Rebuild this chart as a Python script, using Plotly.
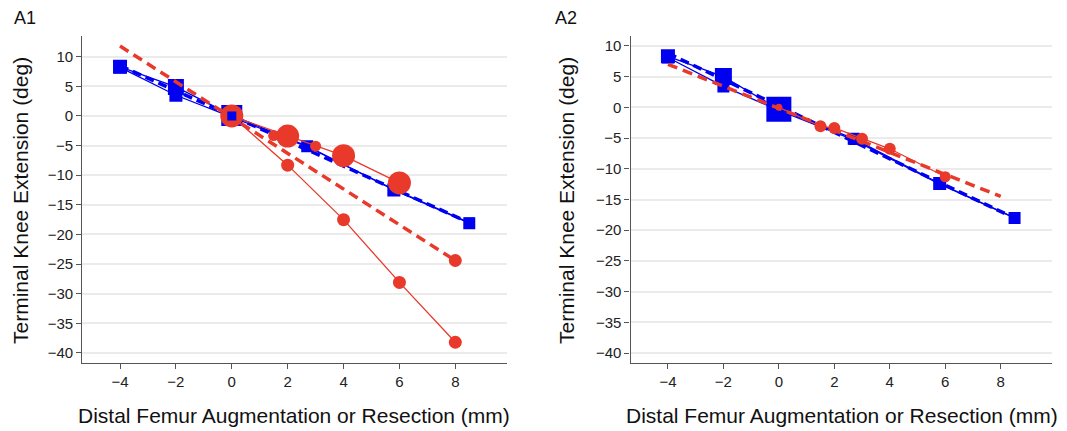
import plotly.graph_objects as go

# ---------------- data ----------------
x_ticks = [-4, -2, 0, 2, 4, 6, 8]
y_ticks = [-40, -35, -30, -25, -20, -15, -10, -5, 0, 5, 10]

# Panel A1
a1_blue1_x = [-4, -2, 0, 2.7, 5.8, 8.5]
a1_blue1_y = [8.3, 4.9, 0.1, -5.1, -12.5, -18.1]
a1_blue1_size = [14, 16, 21, 12, 13, 12]
a1_blue2_x = [-4, -2, 0, 2.7, 5.8, 8.5]
a1_blue2_y = [8.2, 3.5, -0.2, -5.2, -12.4, -18.0]
a1_blue2_size = [12, 13, 10, 10, 11, 10]
a1_bluefit_x = [-4, 8.3]
a1_bluefit_y = [8.5, -17.6]

a1_red_steep_x = [0, 2, 4, 6, 8]
a1_red_steep_y = [0, -8.3, -17.5, -28.1, -38.2]
a1_red_shallow_x = [0, 2, 4, 6]
a1_red_shallow_y = [0, -3.4, -6.7, -11.3]
a1_red_small_x = [1.5, 3, 8]
a1_red_small_y = [-3.3, -5.1, -24.4]
a1_redfit_x = [-4, 8]
a1_redfit_y = [11.8, -24.4]

# Panel A2
a2_blue1_x = [-4, -2, 0, 2.7, 5.8, 8.5]
a2_blue1_y = [8.3, 5.0, -0.3, -5.1, -12.4, -18.0]
a2_blue1_size = [14, 17, 25, 12, 13, 12]
a2_blue2_x = [-4, -2, 0, 2.7, 5.8, 8.5]
a2_blue2_y = [8.1, 3.4, -0.5, -5.3, -12.5, -18.0]
a2_blue2_size = [12, 12, 14, 10, 10, 10]
a2_bluefit_x = [-4, 8.3]
a2_bluefit_y = [8.8, -17.6]

a2_red_x = [0, 1.5, 2, 3, 4, 6]
a2_red_y = [0, -3.1, -3.35, -5.1, -6.75, -11.3]
a2_red_size = [7, 12, 12, 12, 12, 11]
a2_redfit_x = [-4, 8]
a2_redfit_y = [7.0, -14.5]

RED = "#E8392B"
BLUE = "#0000F0"

# the page body has an 8px margin; figure is sized/positioned to compensate
W, H, OFF = 1059, 423, 8


def px(X):
    return (X - OFF) / W


def py(Y):
    return 1 - (Y - OFF) / H


fig = go.Figure()


def add(x, y, axis, mode, color, width=1.3, dash="solid", size=None, symbol="circle"):
    kw = dict(x=x, y=y, mode=mode, xaxis="x" + axis, yaxis="y" + axis,
              showlegend=False, hoverinfo="skip")
    if "lines" in mode:
        kw["line"] = dict(color=color, width=width, dash=dash)
    if "markers" in mode:
        kw["marker"] = dict(color=color, size=size, symbol=symbol, opacity=1,
                            line=dict(width=0))
    fig.add_trace(go.Scatter(**kw))


# ---- A1 ----
add(a1_blue1_x, a1_blue1_y, "", "lines+markers", BLUE, 1.3, size=a1_blue1_size, symbol="square")
add(a1_blue2_x, a1_blue2_y, "", "lines+markers", BLUE, 1.3, size=a1_blue2_size, symbol="square")
add(a1_bluefit_x, a1_bluefit_y, "", "lines", BLUE, 3.5, dash="9px,5px")
add(a1_red_shallow_x, a1_red_shallow_y, "", "lines+markers", RED, 1.3, size=23)
add(a1_red_steep_x, a1_red_steep_y, "", "lines+markers", RED, 1.3, size=[1, 13, 13, 13, 13])
add(a1_red_small_x, a1_red_small_y, "", "markers", RED, size=[11, 11, 13])
add(a1_redfit_x, a1_redfit_y, "", "lines", RED, 3.5, dash="10px,6px")
add([0], [0], "", "markers", BLUE, size=9, symbol="square")

# ---- A2 ----
add(a2_blue1_x, a2_blue1_y, "2", "lines+markers", BLUE, 1.3, size=a2_blue1_size, symbol="square")
add(a2_blue2_x, a2_blue2_y, "2", "lines+markers", BLUE, 1.3, size=a2_blue2_size, symbol="square")
add(a2_bluefit_x, a2_bluefit_y, "2", "lines", BLUE, 3.5, dash="9px,5px")
add(a2_red_x, a2_red_y, "2", "lines+markers", RED, 1.3, size=a2_red_size)
add(a2_redfit_x, a2_redfit_y, "2", "lines", RED, 3.5, dash="10px,6px")

FONT = "Liberation Sans, Arial, sans-serif"
xcommon = dict(tickvals=x_ticks, ticks="outside", ticklen=5, tickcolor="#555",
               showline=True, linecolor="#555", linewidth=1.3, showgrid=False,
               zeroline=False, tickfont=dict(size=15, color="#222", family=FONT))
ycommon = dict(tickvals=y_ticks, ticks="outside", ticklen=5, tickcolor="#555",
               showline=True, linecolor="#555", linewidth=1.3, showgrid=True,
               gridcolor="#EBEBEB", gridwidth=1.5, zeroline=False,
               tickfont=dict(size=15, color="#222", family=FONT))

ydom = [py(363), py(36)]
fig.update_layout(
    width=W, height=H,
    margin=dict(l=0, r=0, t=0, b=0),
    paper_bgcolor="white", plot_bgcolor="white",
    xaxis=dict(domain=[px(82.3), px(507)], range=[-5.35, 9.85], anchor="y", **xcommon),
    yaxis=dict(domain=ydom, range=[-41.7, 13.5], anchor="x", **ycommon),
    xaxis2=dict(domain=[px(630.5), px(1052)], range=[-5.35, 9.85], anchor="y2", **xcommon),
    yaxis2=dict(domain=ydom, range=[-41.6, 11.6], anchor="x2", **ycommon),
)

ann = []
for xc, lab in [(12, "A1"), (553, "A2")]:
    ann.append(dict(x=px(xc), y=py(18), xref="paper", yref="paper", text=lab,
                    showarrow=False, xanchor="left", yanchor="middle",
                    font=dict(size=18, color="#111", family=FONT)))
for xc in [294, 842]:
    ann.append(dict(x=px(xc), y=py(415), xref="paper", yref="paper",
                    text="Distal Femur Augmentation or Resection (mm)", showarrow=False,
                    xanchor="center", yanchor="middle",
                    font=dict(size=21, color="#111", family=FONT)))
for xc in [20, 566]:
    ann.append(dict(x=px(xc), y=py(201), xref="paper", yref="paper",
                    text="Terminal Knee Extension (deg)", showarrow=False, textangle=-90,
                    xanchor="center", yanchor="middle",
                    font=dict(size=21, color="#111", family=FONT)))
fig.update_layout(annotations=ann)

fig.write_html("out.html")
